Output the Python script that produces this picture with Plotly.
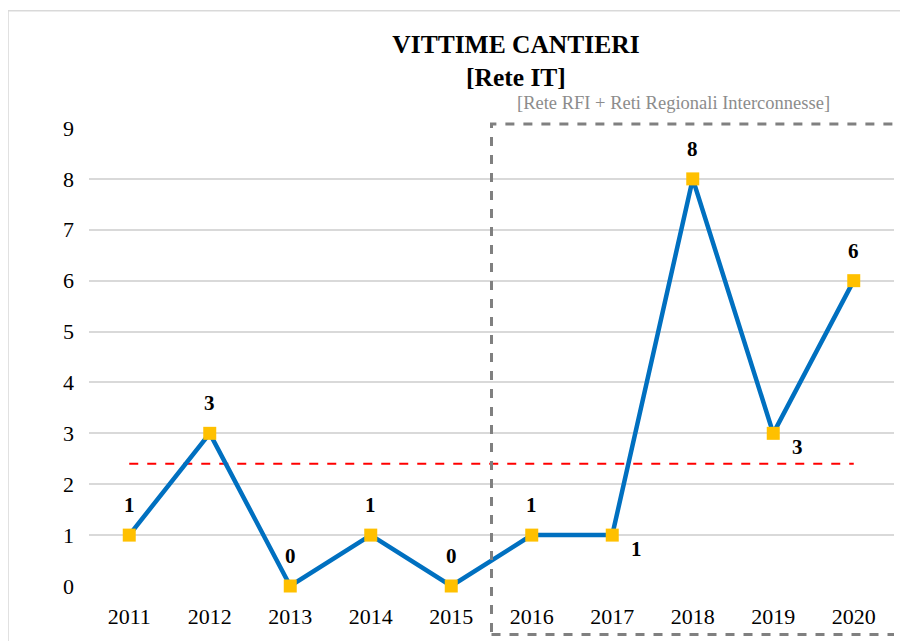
import plotly.graph_objects as go

years = ["2011", "2012", "2013", "2014", "2015", "2016", "2017", "2018", "2019", "2020"]
victims = [1, 3, 0, 1, 0, 1, 1, 8, 3, 6]
label_pos = ["above", "above", "above", "above", "above", "above", "below", "above", "below", "above"]
y_ticks = list(range(0, 10))

mean_val = sum(victims) / len(victims)

SERIF = "Liberation Serif, Times New Roman, serif"

fig = go.Figure()

fig.add_trace(go.Scatter(
    x=years, y=[mean_val] * len(years), mode="lines",
    line=dict(color="#FF0000", width=2, dash="dash"),
    hoverinfo="skip", showlegend=False, cliponaxis=False,
))

fig.add_trace(go.Scatter(
    x=years, y=victims, mode="lines+markers",
    line=dict(color="#0070C0", width=4.5),
    marker=dict(symbol="square", size=13, color="#FFC000"),
    showlegend=False, cliponaxis=False,
))

annotations = []
for i, (v, pos) in enumerate(zip(victims, label_pos)):
    if pos == "above":
        shift = dict(yshift=30, xshift=0)
    else:
        shift = dict(yshift=-14, xshift=24)
    annotations.append(dict(x=i, y=v, xref="x", yref="y", text=f"<b>{v}</b>",
                            showarrow=False, xanchor="center", yanchor="middle",
                            font=dict(family=SERIF, size=21, color="black"), **shift))

annotations.append(dict(
    x=0.7255, y=1.054, xref="paper", yref="paper",
    text="[Rete RFI + Reti Regionali Interconnesse]",
    showarrow=False, xanchor="center", yanchor="middle",
    font=dict(family=SERIF, size=18.5, color="#8c8c8c"),
))

fig.update_layout(
    width=900, height=633,
    margin=dict(l=81, r=14, t=120, b=52),
    paper_bgcolor="white", plot_bgcolor="white",
    title=dict(text="<b>VITTIME CANTIERI<br>[Rete IT]</b>", x=0.5644, xanchor="center",
               xref="container", yref="container", y=0.929, yanchor="middle",
               font=dict(family=SERIF, size=25.5, color="black")),
    xaxis=dict(type="category", categoryorder="array", categoryarray=years,
               range=[-0.5, len(years) - 0.5], showgrid=False, showline=False, zeroline=False,
               ticks="", tickfont=dict(family=SERIF, size=22, color="black"),
               ticklabelstandoff=15),
    yaxis=dict(range=[0, 9], tickvals=y_ticks, showgrid=True, gridcolor="#d9d9d9", gridwidth=1.5,
               zeroline=False, showline=False, ticks="",
               tickfont=dict(family=SERIF, size=22, color="black"), ticklabelstandoff=14),
    annotations=annotations,
    shapes=[
        dict(type="rect", xref="paper", yref="paper", x0=-0.1006, x1=1.2, y0=-0.3, y1=1.256,
             line=dict(color="#d9d9d9", width=1.5), fillcolor="rgba(0,0,0,0)", layer="below"),
        dict(type="rect", xref="x", yref="paper", x0=4.5, x1=len(years) - 0.48, y0=-0.106, y1=1.009,
             line=dict(color="#808080", width=3, dash="dash"), fillcolor="rgba(0,0,0,0)"),
    ],
)

fig.write_html("out.html")
